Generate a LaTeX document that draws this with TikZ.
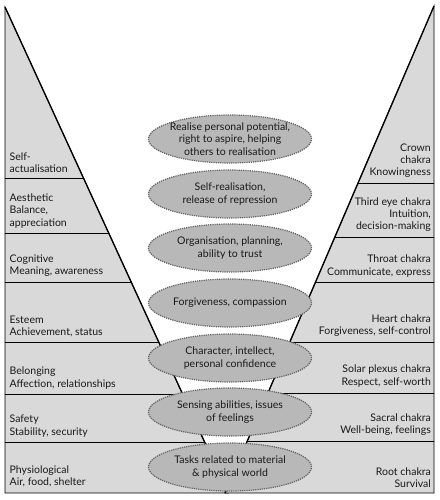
\documentclass[tikz,border=0pt]{standalone}
\usepackage{fontspec}
\setmainfont{Lato}
\usetikzlibrary{shapes}
\usetikzlibrary{positioning}
\definecolor{layergray}{gray}{0.85}
\definecolor{blobgray}{gray}{0.72}
\definecolor{rimgray}{gray}{0.38}
\definecolor{inkgray}{gray}{0.1}
\tikzset{
    Blob/.style = {ellipse, draw=rimgray, densely dotted, line width=1.2pt, fill=blobgray, align=center,
        minimum width=163pt, minimum height=48pt, inner xsep=-14pt, inner ysep=-8pt, text=inkgray,
        font=\fontsize{10.5}{12.5}\selectfont}
}
\tikzset{
    Layer/.style = {draw=black, fill=layergray, line width=0.8pt, line join=miter}
}
\tikzset{
    Lbl/.style = {anchor=south west, align=left, inner sep=0pt, text=inkgray,
        font=\fontsize{10.5}{12.2}\selectfont},
    Rbl/.style = {anchor=south east, align=right, inner sep=0pt, text=inkgray,
        font=\fontsize{10.5}{12.2}\selectfont}
}

\begin{document}
\begin{tikzpicture}[x=1pt, y=-1pt]
\useasboundingbox (0,0) rectangle (439,500);
% left triangle
\path[Layer] (5,7) -- (5,493) -- (228,493) -- cycle;
\draw[line width=0.8pt] (5,178) -- (83.5,178);
\draw[line width=0.8pt] (5,233) -- (108.7,233);
\draw[line width=0.8pt] (5,282) -- (131.2,282);
\draw[line width=0.8pt] (5,342) -- (158.7,342);
\draw[line width=0.8pt] (5,394) -- (182.6,394);
\draw[line width=0.8pt] (5,442) -- (204.6,442);
\draw[line width=1.3pt] (5,7) -- (228,493);
% right triangle
\path[Layer] (434,6) -- (434,493) -- (225,493) -- cycle;
\draw[line width=0.8pt] (434,183) -- (358.0,183);
\draw[line width=0.8pt] (434,237) -- (334.9,237);
\draw[line width=0.8pt] (434,282) -- (315.5,282);
\draw[line width=0.8pt] (434,342) -- (289.8,342);
\draw[line width=0.8pt] (434,393) -- (267.9,393);
\draw[line width=0.8pt] (434,441) -- (247.3,441);
\draw[line width=1.3pt] (434,6) -- (225,493);

\node[Lbl] at (9.5,173) (l1) {Self-\\actualisation};
\node[Lbl] at (9.5,228) (l2) {Aesthetic\\Balance,\\appreciation};
\node[Lbl] at (9.5,277) (l3) {Cognitive\\Meaning, awareness};
\node[Lbl] at (9.5,337) (l4) {Esteem\\Achievement, status};
\node[Lbl] at (9.5,389) (l5) {Belonging\\Affection, relationships};
\node[Lbl] at (9.5,437) (l6) {Safety\\Stability, security};
\node[Lbl] at (9.5,487) (l7) {Physiological\\Air, food, shelter};

\node[Rbl] at (431,178) (r1) {Crown\\chakra\\Knowingness};
\node[Rbl] at (431,232) (r2) {Third eye chakra\\Intuition,\\decision-making};
\node[Rbl] at (431,277) (r3) {Throat chakra\\Communicate, express};
\node[Rbl] at (431,337) (r4) {Heart chakra\\Forgiveness, self-control};
\node[Rbl] at (431,387) (r5) {Solar plexus chakra\\Respect, self-worth};
\node[Rbl] at (431,436) (r6) {Sacral chakra\\Well-being, feelings};
\node[Rbl] at (431,488) (r7) {Root chakra\\Survival};

\node[Blob] at (230,139) (c1) {Realise personal potential,\\right to aspire, helping\\others to realisation};
\node[Blob] at (230,194) (c2) {Self-realisation,\\release of repression};
\node[Blob] at (230,248) (c3) {Organisation, planning,\\ability to trust};
\node[Blob] at (230,303) (c4) {Forgiveness, compassion};
\node[Blob] at (230,358) (c5) {Character, intellect,\\personal confidence};
\node[Blob] at (230,412) (c6) {Sensing abilities, issues\\of feelings};
\node[Blob] at (230,467) (c7) {Tasks related to material\\\& physical world};
\end{tikzpicture}
\end{document}
